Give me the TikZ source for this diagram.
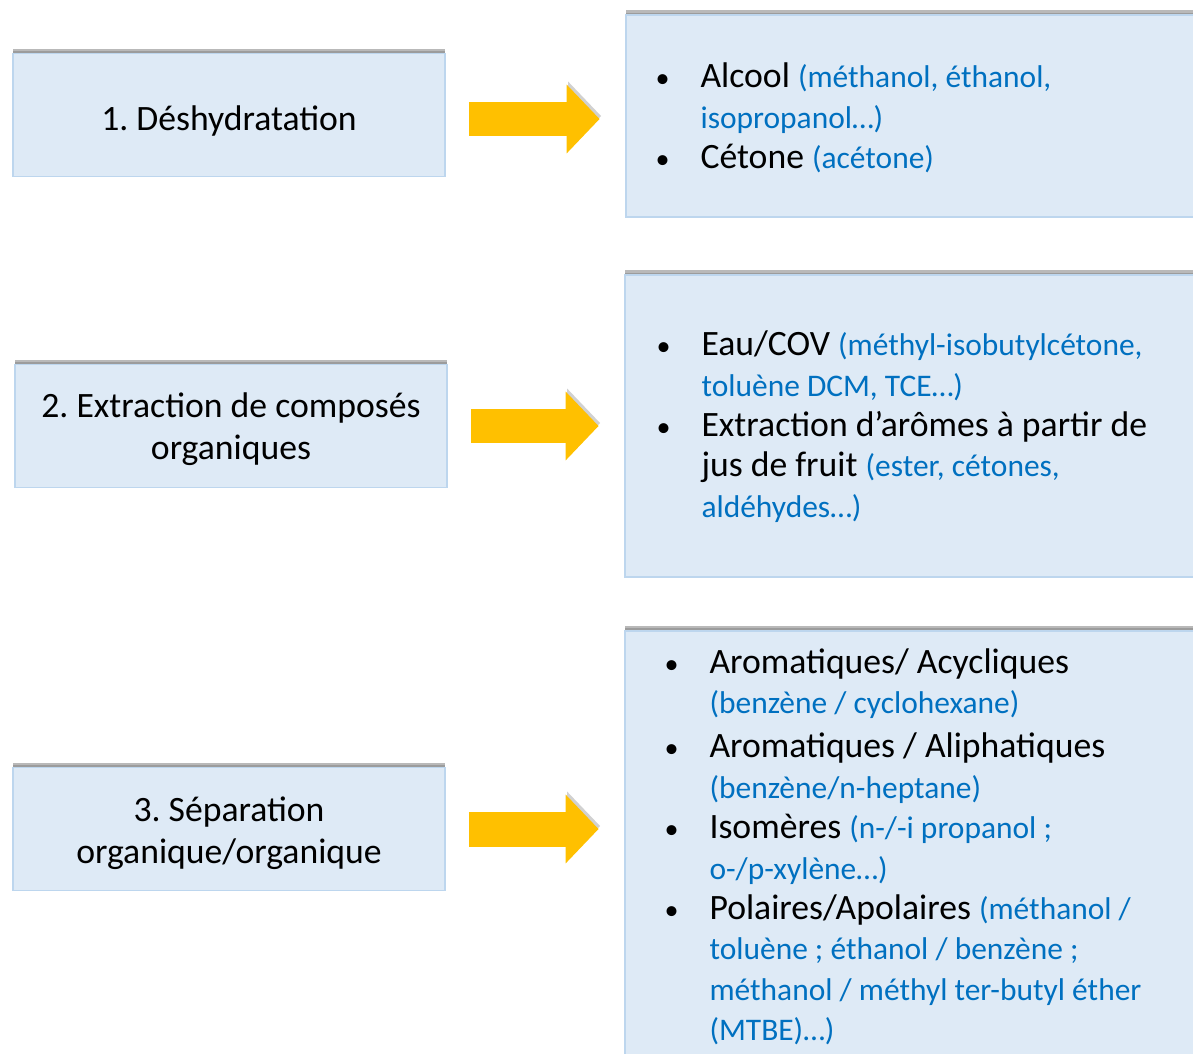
\documentclass[tikz,border=0pt]{standalone}
\usepackage{fontspec}
\setmainfont{Carlito}
\usetikzlibrary{shapes,arrows.meta,shadows,positioning}

\definecolor{fondbleu}{RGB}{222,234,246}
\definecolor{bordbleu}{RGB}{189,214,238}
\definecolor{textebleu}{RGB}{0,112,192}
\definecolor{jaune}{RGB}{255,192,0}
\newcommand{\ex}[1]{\textcolor{textebleu}{\fontsize{17.9}{23}\selectfont #1}}
\newcommand{\puce}{{\fontsize{16}{16}\selectfont\textbullet}}
\newcommand{\baisse}[2]{\raisebox{-#1}[\height][\depth]{#2}}

\begin{document}
\begin{tikzpicture}[
      x=0.02cm, y=-0.02cm,
      font=\fontsize{20.3}{23}\selectfont,
      execute at begin node={\frenchspacing\spaceskip=0pt\xspaceskip=0pt}
    ]

    \tikzstyle{etape} = [
        rectangle,
        draw=bordbleu,
        line width=1.1pt,
        fill=fondbleu,
        minimum width=8.64cm,
        minimum height=2.46cm,
        text centered,
        align=center,
        font=\fontsize{20.3}{24.2}\selectfont,
        drop shadow={shadow xshift=0pt, shadow yshift=0.1cm, opacity=.55},
        drop shadow={shadow xshift=0pt, shadow yshift=0.05cm, opacity=.5}
    ]

    \tikzstyle{liste} = [
        rectangle,
        draw=bordbleu,
        line width=1.1pt,
        fill=fondbleu,
        minimum width=11.7cm,
        align=left,
        drop shadow={shadow xshift=0pt, shadow yshift=0.1cm, opacity=.55},
        drop shadow={shadow xshift=0pt, shadow yshift=0.05cm, opacity=.5}
    ]

    \tikzstyle{line} = [
        draw=jaune,
        line width=0.7cm,
        -{Triangle[length=0.66cm, width=1.34cm]},
        shorten <=0.46cm,
        shorten >=0.5cm,
        preaction={draw=black!60, opacity=.3,
          transform canvas={xshift=0.03cm, yshift=0.06cm}}
    ]

    \useasboundingbox (0,0) rectangle (1193,1054);

    \node [etape] at (229,115)                      (deshy) {\baisse{0.12cm}{1. Déshydratation}};
    \node [etape] at (231,426)                     (extrac) {\baisse{0.06cm}{2. Extraction de composés}\\\baisse{0.06cm}{organiques}};
    \node [etape] at (229,829)                      (separ) {\baisse{0.08cm}{3. Séparation}\\\baisse{0.08cm}{organique/organique}};

    \node [liste, minimum height=4.04cm, inner xsep=0.6cm, text width=10.5cm] at (918,116) (deshyex) {%
      \baisse{0.08cm}{\begin{tabular}{@{}p{0.9cm}@{}l@{}}
        \puce & Alcool \ex{(méthanol, éthanol,}\\
              & \ex{isopropanol…)}\\
        \puce & Cétone \ex{(acétone)}
      \end{tabular}}};

    \node [liste, minimum height=6.04cm, inner xsep=0.64cm, text width=10.42cm] at (917,426) (extracex) {%
      \baisse{0.05cm}{\begin{tabular}{@{}p{0.9cm}@{}l@{}}
        \puce & Eau/COV \ex{(méthyl-isobutylcétone,}\\
              & \ex{toluène DCM, TCE…)}\\
        \puce & Extraction d’arômes à partir de\\
              & jus de fruit \ex{(ester, cétones,}\\
              & \ex{aldéhydes…)}
      \end{tabular}}};

    \node [liste, minimum height=8.74cm, inner xsep=0.8cm, text width=10.1cm] at (917,849) (separex) {%
      \begin{tabular}{@{}p{0.9cm}@{}l@{}}
        \puce & Aromatiques/ Acycliques\\
              & \ex{(benzène / cyclohexane)}\\[2pt]
        \puce & Aromatiques / Aliphatiques\\
              & \ex{(benzène/n-heptane)}\\
        \puce & Isomères \ex{(n-/-i propanol ;}\\
              & \ex{o-/p-xylène…)}\\
        \puce & Polaires/Apolaires \ex{(méthanol /}\\
              & \ex{toluène ; éthanol / benzène ;}\\
              & \ex{méthanol / méthyl ter-butyl éther}\\
              & \ex{(MTBE)…)}
      \end{tabular}};

    \path [line] ([yshift=-0.08cm]deshy.east) -- ([yshift=-0.08cm]deshy.east -| deshyex.west);
    \path [line] (extrac.east) -- (extrac.east -| extracex.west);
    \path [line] (separ.east) -- (separ.east -| separex.west);

    \end{tikzpicture}
\end{document}
